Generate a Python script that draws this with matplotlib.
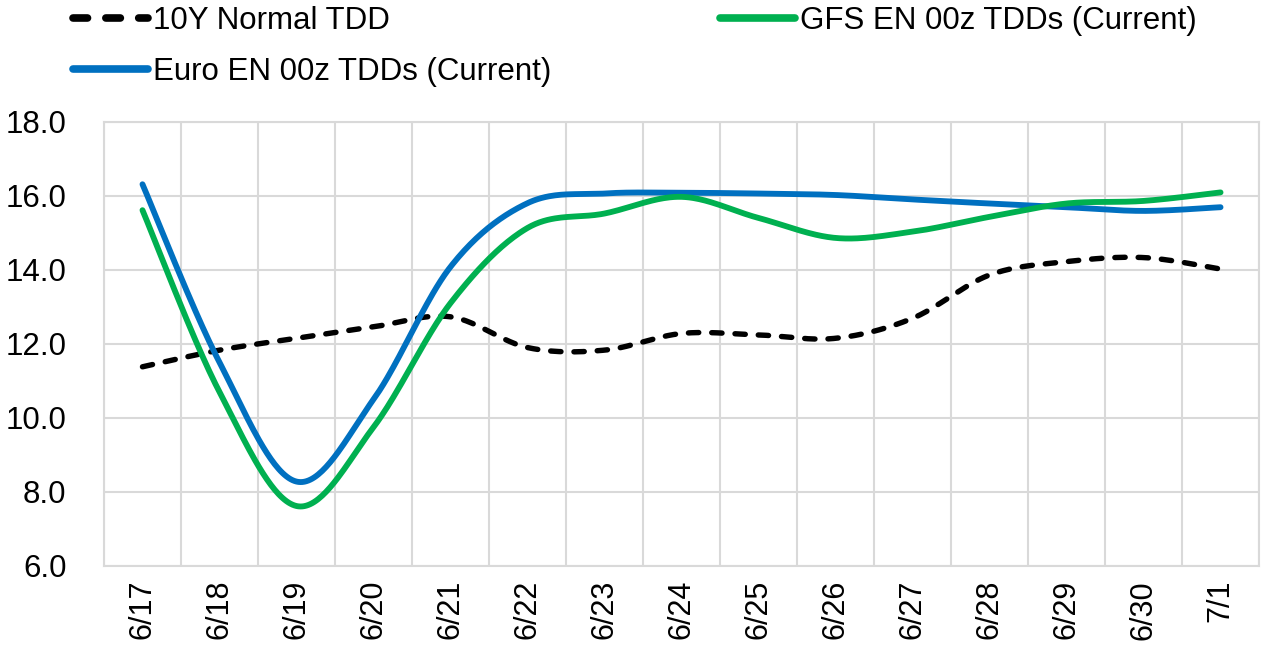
import numpy as np
import matplotlib
matplotlib.use("Agg")
import matplotlib.pyplot as plt

categories = ["6/17", "6/18", "6/19", "6/20", "6/21", "6/22", "6/23", "6/24",
              "6/25", "6/26", "6/27", "6/28", "6/29", "6/30", "7/1"]
normal_10y = [11.38, 11.83, 12.15, 12.46, 12.73, 11.90, 11.83, 12.28,
              12.24, 12.15, 12.69, 13.86, 14.22, 14.33, 14.02]
gfs_en = [15.61, 10.70, 7.62, 9.75, 13.10, 15.13, 15.52, 15.97,
          15.40, 14.86, 15.03, 15.43, 15.79, 15.86, 16.09]
euro_en = [16.31, 11.50, 8.28, 10.50, 14.08, 15.80, 16.06, 16.08,
           16.06, 16.02, 15.90, 15.79, 15.69, 15.59, 15.69]
y_ticks = [6.0, 8.0, 10.0, 12.0, 14.0, 16.0, 18.0]

plt.rcParams['font.family'] = ['Liberation Sans', 'DejaVu Sans']


def smooth(xs, ys, n=40):
    xs = np.asarray(xs, float)
    ys = np.asarray(ys, float)
    P = np.column_stack([xs, ys])
    out = []
    m = len(P)
    for i in range(m - 1):
        p0 = P[i - 1] if i > 0 else P[i]
        p1 = P[i]
        p2 = P[i + 1]
        p3 = P[i + 2] if i + 2 < m else P[i + 1]
        c1 = p1 + (p2 - p0) / 6.0
        c2 = p2 - (p3 - p1) / 6.0
        t = np.linspace(0, 1, n)[:, None]
        seg = ((1 - t) ** 3) * p1 + 3 * ((1 - t) ** 2) * t * c1 + 3 * (1 - t) * t ** 2 * c2 + t ** 3 * p2
        if i > 0:
            seg = seg[1:]
        out.append(seg)
    arr = np.vstack(out)
    return arr[:, 0], arr[:, 1]


fig = plt.figure(figsize=(12.65, 6.49), dpi=100)
ax = fig.add_axes([0.0822, 0.1279, 0.9131, 0.6846])

x = np.arange(len(categories))
grid_c = "#D9D9D9"

sx, sy = smooth(x, normal_10y)
l1, = ax.plot(sx, sy, color="black", lw=3.9, linestyle=(0, (1.9, 2.4)),
              dash_capstyle="round", solid_capstyle="round", label="10Y Normal TDD", zorder=3)
sx, sy = smooth(x, euro_en)
l3, = ax.plot(sx, sy, color="#0070C0", lw=4.2, solid_capstyle="round",
              label="Euro EN 00z TDDs (Current)", zorder=3)
sx, sy = smooth(x, gfs_en)
l2, = ax.plot(sx, sy, color="#00B050", lw=4.2, solid_capstyle="round",
              label="GFS EN 00z TDDs (Current)", zorder=3)

ax.set_xlim(-0.5, len(categories) - 0.5)
ax.set_ylim(6, 18)
ax.set_yticks(y_ticks)
ax.set_yticklabels([f"{v:.1f}" for v in y_ticks], fontsize=22.5)
ax.set_xticks(x)
ax.set_xticklabels(categories, rotation=90, fontsize=22)
ax.set_xticks(np.arange(len(categories) + 1) - 0.5, minor=True)
ax.tick_params(axis='x', which='both', length=0, pad=10)
ax.tick_params(axis='y', length=0, pad=27)
ax.grid(False)
ax.grid(True, axis='y', which='major', color=grid_c, lw=1.5)
ax.grid(True, axis='x', which='minor', color=grid_c, lw=1.5)
for s in ax.spines.values():
    s.set_color(grid_c)
    s.set_linewidth(1.5)
ax.set_axisbelow(True)

leg = fig.legend(handles=[l1, l3, l2], loc="upper left", bbox_to_anchor=(0.0577, 0.991),
                 ncol=2, frameon=False, fontsize=22.5, handlelength=2.4, handletextpad=0.16,
                 columnspacing=5.4, labelspacing=0.68, borderaxespad=0.0, borderpad=0.0)
for h in leg.legend_handles:
    h.set_linewidth(5.5)

fig.savefig("out.png", dpi=100)
